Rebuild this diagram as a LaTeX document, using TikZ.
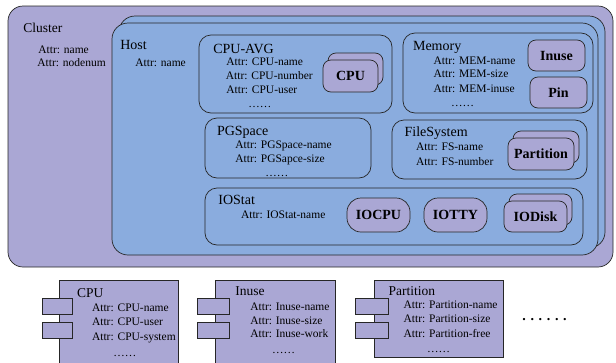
\documentclass[tikz,border=0pt]{standalone}
\usepackage{fontspec}
\setmainfont{Liberation Serif}
\usetikzlibrary{shapes,shadows}
\definecolor{lavender}{RGB}{170,167,212}
\definecolor{skyblue}{RGB}{138,172,222}

\begin{document}
\begin{tikzpicture}[x=1pt,y=-1pt,line width=0.7pt]
\tikzstyle{box} = [rectangle, draw=black!85, inner sep=0pt]
\tikzstyle{cluster} = [box, fill=lavender, rounded corners=15pt]
\tikzstyle{host} = [box, fill=skyblue, rounded corners=16pt, copy shadow={shadow xshift=7pt, shadow yshift=7pt}]
\tikzstyle{part} = [box, fill=skyblue, rounded corners=12pt]
\tikzstyle{item} = [box, fill=lavender, rounded corners=8pt, font=\fontsize{14}{16}\selectfont\bfseries]
\tikzstyle{multi} = [item, copy shadow={shadow xshift=5pt, shadow yshift=7pt}]
\tikzstyle{comp} = [box, fill=lavender]
\tikzstyle{port} = [box, fill=lavender, minimum height=16pt]
\tikzstyle{title} = [anchor=base west, inner sep=0pt, font=\fontsize{14}{16}\selectfont]
\tikzstyle{attr} = [anchor=base west, inner sep=0pt, font=\fontsize{11.5}{13}\selectfont]

\useasboundingbox (0,0) rectangle (616,362);

% containers
\node[cluster, minimum width=605pt, minimum height=261pt] (cluster) at (310.5,136.5) {};
\node[host, minimum width=486pt, minimum height=232pt] (host) at (355,139) {};
\node[part, minimum width=193pt, minimum height=78pt] (cpuavg) at (295.5,74) {};
\node[part, minimum width=190pt, minimum height=80pt] (memory) at (498,73) {};
\node[part, minimum width=166pt, minimum height=60pt] (pgspace) at (288,148) {};
\node[part, minimum width=195pt, minimum height=59pt] (filesystem) at (489.5,149.5) {};
\node[part, minimum width=378pt, minimum height=57pt] (iostat) at (394,216.5) {};

% items
\node[multi, minimum width=55pt, minimum height=32pt] (cpu) at (350.5,76) {CPU};
\node[item, minimum width=57pt, minimum height=31pt] (inuse) at (556.5,55.5) {Inuse};
\node[item, minimum width=57pt, minimum height=31pt] (pin) at (558.5,92.5) {Pin};
\node[multi, minimum width=66pt, minimum height=32pt] (partition) at (541,154) {Partition};
\node[item, rounded corners=14pt, minimum width=63pt, minimum height=34pt] (iocpu) at (378.5,215) {IOCPU};
\node[item, rounded corners=14pt, minimum width=63pt, minimum height=34pt] (iotty) at (455.5,215) {IOTTY};
\node[multi, minimum width=63pt, minimum height=31pt] (iodisk) at (535.5,216.5) {IODisk};

% labels
\node[title, font=\fontsize{13.5}{16}\selectfont] (clustert) at (23,32) {Cluster};
\node[attr] (cluster1) at (38,53) {Attr: name};
\node[attr] (cluster2) at (37,66.5) {Attr: nodenum};
\node[title] (hostt) at (120,49) {Host};
\node[attr] (host1) at (135,66) {Attr: name};
\node[title] (cpuavgt) at (213,53) {CPU-AVG};
\node[attr] (cpuavg1) at (226,65.7) {Attr: CPU-name};
\node[attr] (cpuavg2) at (225.5,79.3) {Attr: CPU-number};
\node[attr] (cpuavg3) at (226,93.3) {Attr: CPU-user};
\node[attr] (cpuavg4) at (248,107) {……};
\node[title] (memoryt) at (412.7,50.7) {Memory};
\node[attr] (memory1) at (433.3,64) {Attr: MEM-name};
\node[attr] (memory2) at (433.3,77.5) {Attr: MEM-size};
\node[attr] (memory3) at (433.3,92) {Attr: MEM-inuse};
\node[attr] (memory4) at (450.7,106) {……};
\node[title] (pgspacet) at (216.7,135) {PGSpace};
\node[attr] (pgspace1) at (235,148.5) {Attr: PGSpace-name};
\node[attr] (pgspace2) at (235,162) {Attr: PGSapce-size};
\node[attr] (pgspace3) at (265,176) {……};
\node[title] (filesystemt) at (404.3,136.5) {FileSystem};
\node[attr] (filesystem1) at (415.7,150) {Attr: FS-name};
\node[attr] (filesystem2) at (415.7,165) {Attr: FS-number};
\node[title] (iostatt) at (218,204) {IOStat};
\node[attr] (iostat1) at (240.7,218) {Attr: IOStat-name};

% components
\node[comp, minimum width=119pt, minimum height=84pt] (cpucomp) at (118.5,322) {};
\node[port, minimum width=30pt] (cpuport1) at (57,306) {};
\node[port, minimum width=30pt] (cpuport2) at (57,330) {};
\node[comp, minimum width=120pt, minimum height=84pt] (inusecomp) at (275,322) {};
\node[port, minimum width=32pt] (inuseport1) at (213,306) {};
\node[port, minimum width=32pt] (inuseport2) at (213,330) {};
\node[comp, minimum width=129pt, minimum height=77pt] (partcomp) at (438.5,318.5) {};
\node[port, minimum width=33pt] (partport1) at (371.5,306) {};
\node[port, minimum width=33pt] (partport2) at (371.5,330.5) {};

\node[title, font=\fontsize{13.5}{16}\selectfont] (cpucompt) at (76.7,297.7) {CPU};
\node[attr] (cpucomp1) at (91.7,311.7) {Attr: CPU-name};
\node[attr] (cpucomp2) at (91.7,325.7) {Attr: CPU-user};
\node[attr] (cpucomp3) at (91.7,340) {Attr: CPU-system};
\node[attr] (cpucomp4) at (113,356) {……};
\node[title, font=\fontsize{13.5}{16}\selectfont] (inusecompt) at (235,295) {Inuse};
\node[attr] (inusecomp1) at (250,310.7) {Attr: Inuse-name};
\node[attr] (inusecomp2) at (250,324.3) {Attr: Inuse-size};
\node[attr] (inusecomp3) at (250,337.7) {Attr: Inuse-work};
\node[attr] (inusecomp4) at (271.7,353) {……};
\node[title, font=\fontsize{13.5}{16}\selectfont] (partcompt) at (388.3,295) {Partition};
\node[attr] (partcomp1) at (403.3,308) {Attr: Partition-name};
\node[attr] (partcomp2) at (403.3,322.3) {Attr: Partition-size};
\node[attr] (partcomp3) at (403.3,337.3) {Attr: Partition-free};
\node[attr] (partcomp4) at (426.7,352.7) {……};
\node[attr, font=\fontsize{14}{16}\selectfont\bfseries] (more) at (522,320) {. . . . . .};
\end{tikzpicture}
\end{document}
